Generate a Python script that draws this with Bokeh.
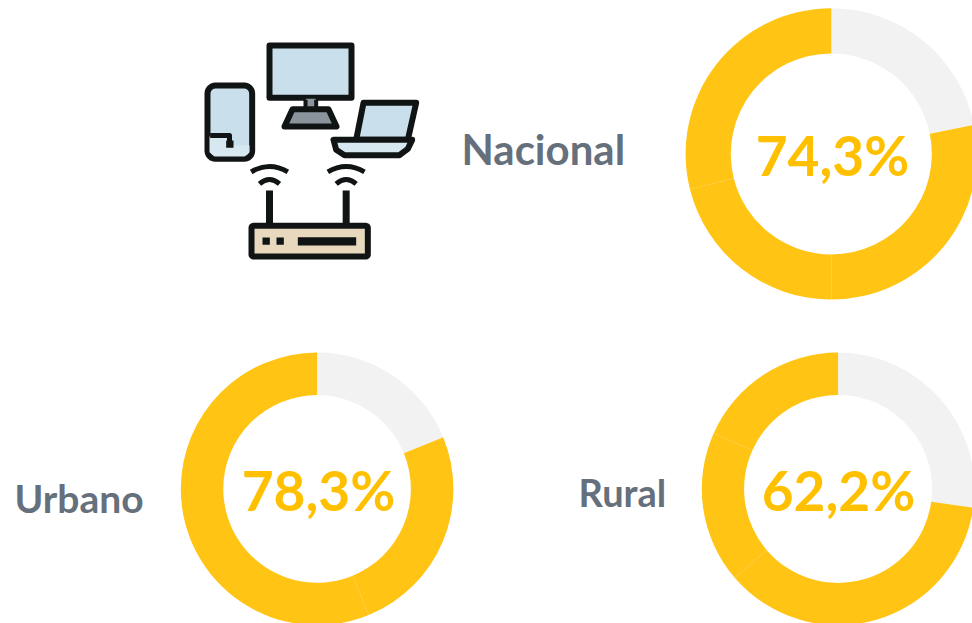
from math import pi, cos, sin
from bokeh.plotting import figure
from bokeh.models import Range1d
from bokeh.core.properties import value
from bokeh.embed import file_html
from bokeh.resources import INLINE

# --- data: slice shares in percent, clockwise from 12 o'clock
categories = ["Nacional", "Urbano", "Rural"]
value_labels = ["74,3%", "78,3%", "62,2%"]
nacional_shares = [21.8, 28.2, 21.1, 28.9]
urbano_shares = [18.8, 25.0, 31.2, 25.0]
rural_shares = [27.2, 36.5, 18.0, 18.3]
all_shares = [nacional_shares, urbano_shares, rural_shares]

W, H = 972, 623
PAGE_H = 623
YEL, GREY, TXT, VAL = "#FFC414", "#F2F2F2", "#66707C", "#FFC000"
INK, BLUE, PALE, SAND, STEEL = "#111414", "#C9E0EC", "#D8E8F0", "#E8D8BD", "#8A949C"
FONT = "Lato"

p = figure(width=W, height=H, output_backend="svg", toolbar_location=None,
           x_range=Range1d(0, W), y_range=Range1d(0, H),
           min_border=0, outline_line_color=None, background_fill_color="white")
p.axis.visible = False
p.grid.visible = False


def Y(py):
    return PAGE_H - py


layout = [  # cx, cy, outer, inner
    (830.8, 153.4, 145.7, 100.5),
    (316.6, 488.4, 136.3, 93.8),
    (837.6, 488.4, 136.3, 94.0),
]
value_pos = [(832, 154), (318, 489), (838, 489)]
label_pos = [(461, 148), (14, 497), (578, 491)]
label_sizes = ["42px", "39px", "38px"]

for shares, (cx, cy, ro, ri) in zip(all_shares, layout):
    acc = 0.0
    for i, s in enumerate(shares):
        a0 = pi / 2 - acc / 100 * 2 * pi
        a1 = pi / 2 - (acc + s) / 100 * 2 * pi
        p.annular_wedge(x=[cx], y=[Y(cy)], inner_radius=ri, outer_radius=ro,
                        start_angle=a0, end_angle=a1, direction="clock",
                        fill_color=GREY if i == 0 else YEL, line_color=None)
        acc += s

for lab, (x, y) in zip(value_labels, value_pos):
    p.text(x=[x], y=[Y(y)], text=[lab], text_align="center", text_baseline="alphabetic",
           text_font=value(FONT), text_font_style="bold", text_font_size="55px", text_color=VAL)
for lab, (x, y), fs in zip(categories, label_pos, label_sizes):
    p.text(x=[x], y=[Y(y)], text=[lab], text_align="left", text_baseline="alphabetic",
           text_font=value(FONT), text_font_style="bold", text_font_size=fs, text_color=TXT)


# --- decorative icon (zoom coordinates: 3x crop with origin at 189,30)
def zx(v):
    return 189 + v / 3


def zy(v):
    return Y(30 + v / 3)


def poly(pts, fill, lw=6.0, line=INK):
    p.patch([zx(a) for a, b in pts], [zy(b) for a, b in pts], fill_color=fill,
            line_color=line, line_width=lw, line_join="round")


def seg(pts, lw=6.0, color=INK, cap="butt"):
    p.line([zx(a) for a, b in pts], [zy(b) for a, b in pts], line_color=color,
           line_width=lw, line_cap=cap, line_join="round")


def curve(x0, y0, x1, y1, cx_, cy_, lw):
    p.quadratic(x0=[zx(x0)], y0=[zy(y0)], x1=[zx(x1)], y1=[zy(y1)], cx=[zx(cx_)], cy=[zy(cy_)],
                line_color=INK, line_width=lw)


def rounded(x0, y0, x1, y1, r):
    pts = []
    for cx_, cy_, st in ((x1 - r, y0 + r, -90), (x1 - r, y1 - r, 0), (x0 + r, y1 - r, 90), (x0 + r, y0 + r, 180)):
        for k in range(7):
            t = (st + k * 15) * pi / 180
            pts.append((cx_ + r * cos(t), cy_ + r * sin(t)))
    return pts


# monitor
poly([(240, 45), (486, 45), (486, 202), (240, 202)], BLUE)
poly([(349, 205), (379, 205), (379, 236), (349, 236)], STEEL, lw=0, line=None)
poly([(309, 236), (417, 236), (441, 288), (285, 288)], STEEL)
seg([(348, 208), (348, 236)], 4)
seg([(380, 208), (380, 236)], 4)
# phone
poly(rounded(54, 165, 188, 385, 24), BLUE)
poly([(60, 318), (120, 318), (120, 345), (180, 345), (180, 365), (165, 378), (75, 378), (60, 365)], PALE, lw=0, line=None)
seg([(62, 315), (120, 315), (120, 340)], 5)
p.quad(left=[zx(110)], right=[zx(132)], top=[zy(330)], bottom=[zy(352)], fill_color=INK, line_color=None)
# laptop
poly([(522, 217), (680, 217), (655, 328), (500, 328)], BLUE)
poly([(432, 328), (668, 328), (655, 355), (630, 374), (465, 374), (440, 358)], PALE)
# wifi waves
for c in (240, 470):
    curve(c - 55, 424, c + 55, 424, c, 392, 5)
    curve(c - 30, 460, c + 30, 460, c, 434, 5)
    seg([(c, 480), (c, 585)], 7)
# router
poly(rounded(186, 586, 535, 678, 6), SAND)
for c in (230, 272):
    p.quad(left=[zx(c - 11)], right=[zx(c + 11)], top=[zy(621)], bottom=[zy(643)], fill_color=INK, line_color=None)
p.quad(left=[zx(325)], right=[zx(500)], top=[zy(620)], bottom=[zy(645)], fill_color=INK, line_color=None)

open("out.html", "w").write(file_html(p, INLINE))
